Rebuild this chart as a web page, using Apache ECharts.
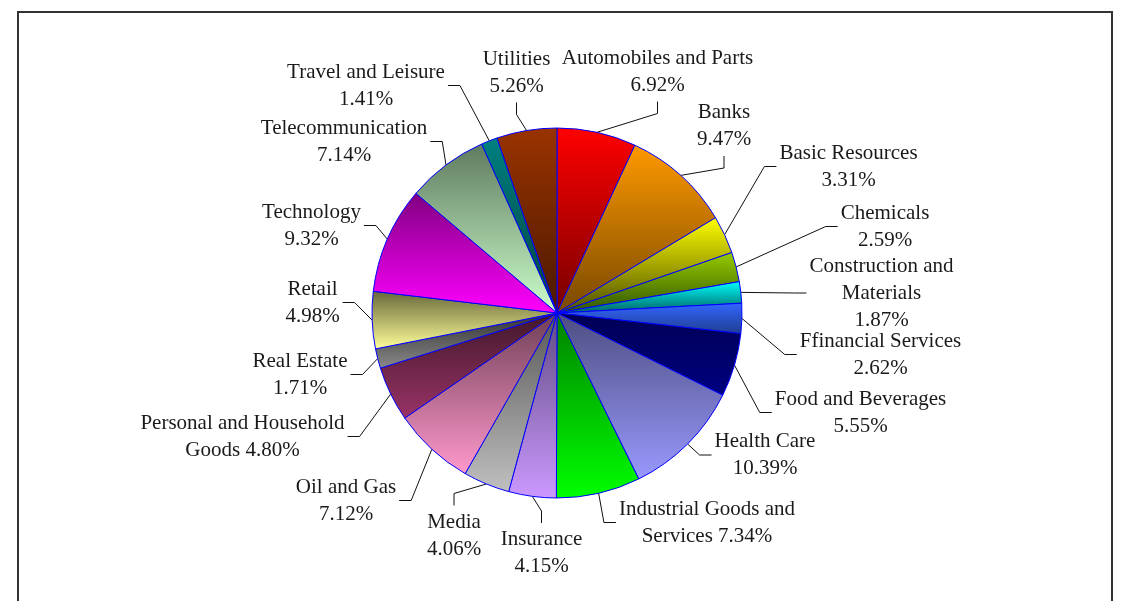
<!DOCTYPE html>
<html>
<head>
<meta charset="utf-8">
<script src="https://cdn.jsdelivr.net/npm/echarts@6/dist/echarts.min.js"></script>
<style>
  html, body { margin: 0; padding: 0; background: #fff; }
  #chart { width: 1124px; height: 601px; position: relative; }
  #frame { position: absolute; left: 17px; top: 11px; width: 1096px; height: 640px;
           border: 2px solid #333; box-sizing: border-box; pointer-events: none; }
</style>
</head>
<body>
<div id="chart"></div>
<div id="frame"></div>
<script>
// Sector weights (%) of the portfolio
const categories = [
  'Automobiles and Parts', 'Banks', 'Basic Resources', 'Chemicals',
  'Construction and Materials', 'Ffinancial Services', 'Food and Beverages',
  'Health Care', 'Industrial Goods and Services', 'Insurance', 'Media',
  'Oil and Gas', 'Personal and Household Goods', 'Real Estate', 'Retail',
  'Technology', 'Telecommunication', 'Travel and Leisure', 'Utilities'
];
const weights = [
  6.92, 9.47, 3.31, 2.59, 1.87, 2.62, 5.55, 10.39, 7.34, 4.15, 4.06,
  7.12, 4.80, 1.71, 4.98, 9.32, 7.14, 1.41, 5.26
];

// Wrapped label heads for the long names (the rest use "name\nvalue")
const labelHeads = {
  'Construction and Materials': 'Construction and\nMaterials\n',
  'Industrial Goods and Services': 'Industrial Goods and\nServices ',
  'Personal and Household Goods': 'Personal and Household\nGoods '
};

// Slice fills: vertical gradient, top colour -> bottom colour
const fillTop = [
  '#ff0000', '#ff9900', '#ffff00', '#99cc00', '#00ffff', '#3366ff', '#000055',
  '#4d4d80', '#008000', '#5e4a80', '#555555', '#6e3f55', '#40182a', '#303030',
  '#66663a', '#800080', '#5f7a5f', '#008080', '#993300'
];
const fillBottom = [
  '#750000', '#774800', '#4a4a00', '#2f5200', '#006060', '#1f3d8f', '#000080',
  '#9999ff', '#00ff00', '#cc99ff', '#c0c0c0', '#ff99cc', '#993366', '#8a8a8a',
  '#ffff99', '#ff00ff', '#ccffcc', '#003f3f', '#4a1800'
];

// Label placement: block centre x, centre y, side the leader line meets
const labelPlace = [
  [657.5, 71.5, 'b'], [724, 126, 'b'], [848.5, 166.5, 'l'], [885, 226.5, 'l'],
  [881.5, 293, 'l'], [880.5, 354.5, 'l'], [860.5, 412.5, 'l'], [765, 455, 'l'],
  [707, 522.5, 'l'], [541.5, 553, 't'], [454, 535.5, 't'], [346, 500.5, 'r'],
  [242.5, 436.5, 'r'], [300, 374.5, 'r'], [312.5, 302.5, 'r'], [311.5, 225.5, 'r'],
  [344, 141.5, 'r'], [366, 85.5, 'r'], [516.5, 72.5, 'b']
];

const chart = echarts.init(document.getElementById('chart'), null, { renderer: 'canvas' });

const data = categories.map((name, i) => ({
  name: name,
  value: weights[i],
  itemStyle: {
    color: new echarts.graphic.LinearGradient(0, 0, 0, 1, [
      { offset: 0, color: fillTop[i] },
      { offset: 1, color: fillBottom[i] }
    ])
  }
}));

const GAP = 3, ELBOW = 12;

chart.setOption({
  backgroundColor: '#ffffff',
  animation: false,
  series: [{
    type: 'pie',
    center: [557, 313],
    radius: 185,
    startAngle: 90,
    clockwise: true,
    avoidLabelOverlap: false,
    data: data,
    itemStyle: { borderColor: '#0000ff', borderWidth: 1 },
    emphasis: { disabled: true },
    label: {
      show: true,
      position: 'outside',
      fontFamily: '"Liberation Serif", "DejaVu Serif", serif',
      fontSize: 21,
      lineHeight: 27,
      color: '#1a1a1a',
      align: 'center',
      formatter: p => (labelHeads[p.name] || (p.name + '\n')) + p.value.toFixed(2) + '%'
    },
    labelLine: {
      show: true,
      length: 15,
      length2: 10,
      lineStyle: { color: '#111', width: 1 }
    },
    labelLayout: function (params) {
      const pl = labelPlace[params.dataIndex];
      const cx = pl[0], cy = pl[1], side = pl[2];
      const w = params.labelRect.width, h = params.labelRect.height;
      const a = params.labelLinePoints ? params.labelLinePoints[0] : [cx, cy];
      let c, b;
      if (side === 'l') {
        c = [cx - w / 2 - GAP, cy];
        b = [c[0] - ELBOW, cy];
      } else if (side === 'r') {
        c = [cx + w / 2 + GAP, cy];
        b = [c[0] + ELBOW, cy];
      } else if (side === 'b') {
        c = [cx, cy + h / 2 + GAP];
        b = [cx, c[1] + ELBOW];
      } else {
        c = [cx, cy - h / 2 - GAP];
        b = [cx, c[1] - ELBOW];
      }
      return {
        x: cx,
        y: cy,
        align: 'center',
        verticalAlign: 'middle',
        labelLinePoints: [a, b, c]
      };
    }
  }]
});
</script>
</body>
</html>
